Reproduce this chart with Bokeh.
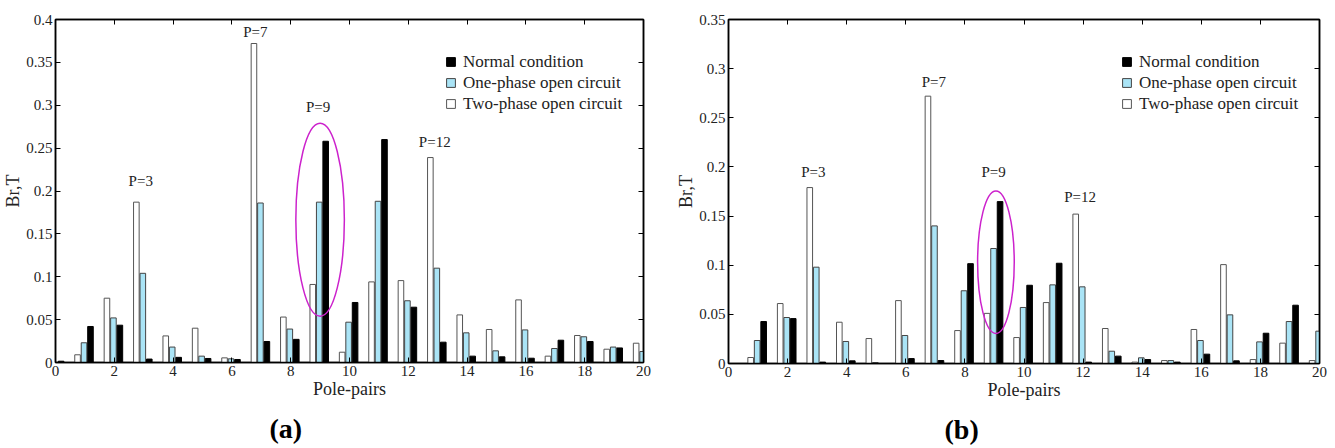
from bokeh.plotting import figure
from bokeh.models import (ColumnDataSource, Range1d, FixedTicker, NumeralTickFormatter,
                          LinearAxis, Legend, LegendItem, Title)
from bokeh.transform import dodge
from bokeh.layouts import row
from bokeh.embed import file_html
from bokeh.resources import INLINE
from bokeh.core.properties import value

# ---------------- data ----------------
pole_pairs = list(range(21))
x_ticks = [0, 2, 4, 6, 8, 10, 12, 14, 16, 18, 20]

# panel (a)
normal_a = [0.0015, 0.042, 0.0435, 0.004, 0.006, 0.0047, 0.0035, 0.0245, 0.027, 0.258, 0.070,
            0.260, 0.0645, 0.0237, 0.0074, 0.0066, 0.005, 0.026, 0.0245, 0.017, 0.0]
one_a = [0.0, 0.023, 0.052, 0.104, 0.018, 0.0074, 0.0043, 0.186, 0.039, 0.187, 0.047,
         0.188, 0.072, 0.110, 0.0346, 0.0136, 0.038, 0.0163, 0.030, 0.018, 0.0128]
two_a = [0.0, 0.009, 0.075, 0.187, 0.031, 0.040, 0.0054, 0.372, 0.053, 0.091, 0.012,
         0.094, 0.0955, 0.239, 0.0555, 0.0385, 0.073, 0.0074, 0.0315, 0.0155, 0.0225]
y_ticks_a = [0, 0.05, 0.1, 0.15, 0.2, 0.25, 0.3, 0.35, 0.4]

# panel (b)
normal_b = [0.0, 0.0427, 0.0457, 0.0014, 0.0027, 0.0, 0.005, 0.003, 0.1016, 0.1647, 0.0796,
            0.102, 0.0014, 0.0075, 0.004, 0.0014, 0.0095, 0.0027, 0.0308, 0.0593, 0.0]
one_b = [0.0, 0.0234, 0.0468, 0.098, 0.0224, 0.001, 0.0285, 0.140, 0.074, 0.117, 0.057,
         0.080, 0.078, 0.0125, 0.0058, 0.003, 0.0234, 0.0495, 0.022, 0.0427, 0.0329]
two_b = [0.0, 0.0061, 0.061, 0.179, 0.042, 0.0254, 0.064, 0.272, 0.0335, 0.051, 0.0264,
         0.062, 0.152, 0.0356, 0.0014, 0.003, 0.0346, 0.1006, 0.004, 0.0207, 0.003]
y_ticks_b = [0, 0.05, 0.1, 0.15, 0.2, 0.25, 0.3, 0.35]

series_names = ["Normal condition", "One-phase open circuit", "Two-phase open circuit"]
peak_labels = ["P=3", "P=7", "P=9", "P=12"]

FONT = "Liberation Serif"
CYAN = "#AAE4F6"


def make_panel(normal, one, two, ymax, yticks, ann_x, ann_y, ell, tag, tag_offset,
               borders, frame, legend_loc):
    bl, br, bt, bb = borders
    fw, fh = frame
    p = figure(width=bl + fw + br, height=bt + fh + bb, frame_width=fw, frame_height=fh,
               x_range=Range1d(0, 20), y_range=Range1d(0, ymax),
               output_backend="svg", toolbar_location=None,
               min_border_left=bl, min_border_right=br, min_border_top=bt, min_border_bottom=bb)
    p.xgrid.grid_line_color = None
    p.ygrid.grid_line_color = None
    p.outline_line_color = "black"
    p.outline_line_width = 1.5
    p.background_fill_color = "white"

    src = ColumnDataSource(dict(p=pole_pairs, normal=normal, one=one, two=two))
    w = 0.19
    r_two = p.vbar(x=dodge("p", -0.25, range=p.x_range), top="two", width=w, bottom=0, source=src,
                   fill_color="white", line_color="#555555", line_width=1)
    r_one = p.vbar(x=dodge("p", -0.03, range=p.x_range), top="one", width=w, bottom=0, source=src,
                   fill_color=CYAN, line_color="#444444", line_width=1)
    r_norm = p.vbar(x=dodge("p", 0.19, range=p.x_range), top="normal", width=w, bottom=0, source=src,
                    fill_color="black", line_color="black", line_width=1)

    ex, ey, ew, eh = ell
    p.ellipse(x=ex, y=ey, width=ew, height=eh, fill_color=None, line_color="#CC22CC", line_width=1.5)

    tsrc = ColumnDataSource(dict(x=ann_x, y=ann_y, t=peak_labels))
    p.text(x="x", y="y", text="t", source=tsrc, text_font=value(FONT), text_font_size="15px",
           text_align="center", text_baseline="middle", text_color="#222222")

    # axes
    p.xaxis.ticker = FixedTicker(ticks=x_ticks)
    p.yaxis.ticker = FixedTicker(ticks=yticks)
    p.yaxis.formatter = NumeralTickFormatter(format="0.[00]")
    p.xaxis.axis_label = "Pole-pairs"
    p.yaxis.axis_label = "Br,T"
    for ax in (p.xaxis[0], p.yaxis[0]):
        ax.major_tick_in = 5
        ax.major_tick_out = 0
        ax.minor_tick_line_color = None
        ax.axis_line_width = 1.5
        ax.major_tick_line_width = 1
        ax.major_label_text_font = FONT
        ax.major_label_text_font_size = "15px"
        ax.major_label_text_color = "#222222"
        ax.axis_label_text_font = FONT
        ax.axis_label_text_font_style = "normal"
        ax.axis_label_text_font_size = "18px"
        ax.axis_label_text_color = "#222222"
    p.xaxis.major_label_standoff = 3
    p.xaxis.axis_label_standoff = 0
    p.yaxis.major_label_standoff = 3
    p.yaxis.axis_label_standoff = 0

    top = LinearAxis(ticker=FixedTicker(ticks=x_ticks), major_label_text_font_size="0px",
                     major_label_text_color=None,
                     major_tick_in=5, major_tick_out=0, minor_tick_line_color=None,
                     axis_line_width=1.5, major_label_standoff=0)
    right = LinearAxis(ticker=FixedTicker(ticks=yticks), major_label_text_font_size="0px",
                       major_label_text_color=None,
                       major_tick_in=5, major_tick_out=0, minor_tick_line_color=None,
                       axis_line_width=1.5, major_label_standoff=0)
    p.add_layout(top, "above")
    p.add_layout(right, "right")

    legend = Legend(items=[LegendItem(label=series_names[0], renderers=[r_norm]),
                           LegendItem(label=series_names[1], renderers=[r_one]),
                           LegendItem(label=series_names[2], renderers=[r_two])],
                    location=legend_loc, padding=0, spacing=0, margin=0,
                    glyph_width=11, glyph_height=11, label_height=21, label_standoff=7,
                    label_text_font=FONT, label_text_font_size="17px", label_text_color="#222222",
                    border_line_color=None, background_fill_alpha=0)
    p.add_layout(legend)

    p.add_layout(Title(text=tag, align="left", offset=tag_offset, standoff=18,
                       text_font=FONT, text_font_size="28px", text_font_style="bold",
                       text_color="black"), "below")
    return p


pa = make_panel(normal_a, one_a, two_a, 0.4, y_ticks_a,
                [2.9, 6.8, 8.93, 12.9], [0.212, 0.386, 0.298, 0.257],
                (9.0, 0.1665, 1.65, 0.225), "(a)", 214,
                (54, 26, 17, 88), (588, 343), (390, 248))
pb = make_panel(normal_b, one_b, two_b, 0.35, y_ticks_b,
                [2.87, 6.95, 8.97, 11.9], [0.195, 0.286, 0.195, 0.169],
                (9.05, 0.103, 1.24, 0.145), "(b)", 216,
                (59, 17, 19, 85), (591, 344), (393, 249))

layout = row(pa, pb)
open("out.html", "w").write(file_html(layout, INLINE))
